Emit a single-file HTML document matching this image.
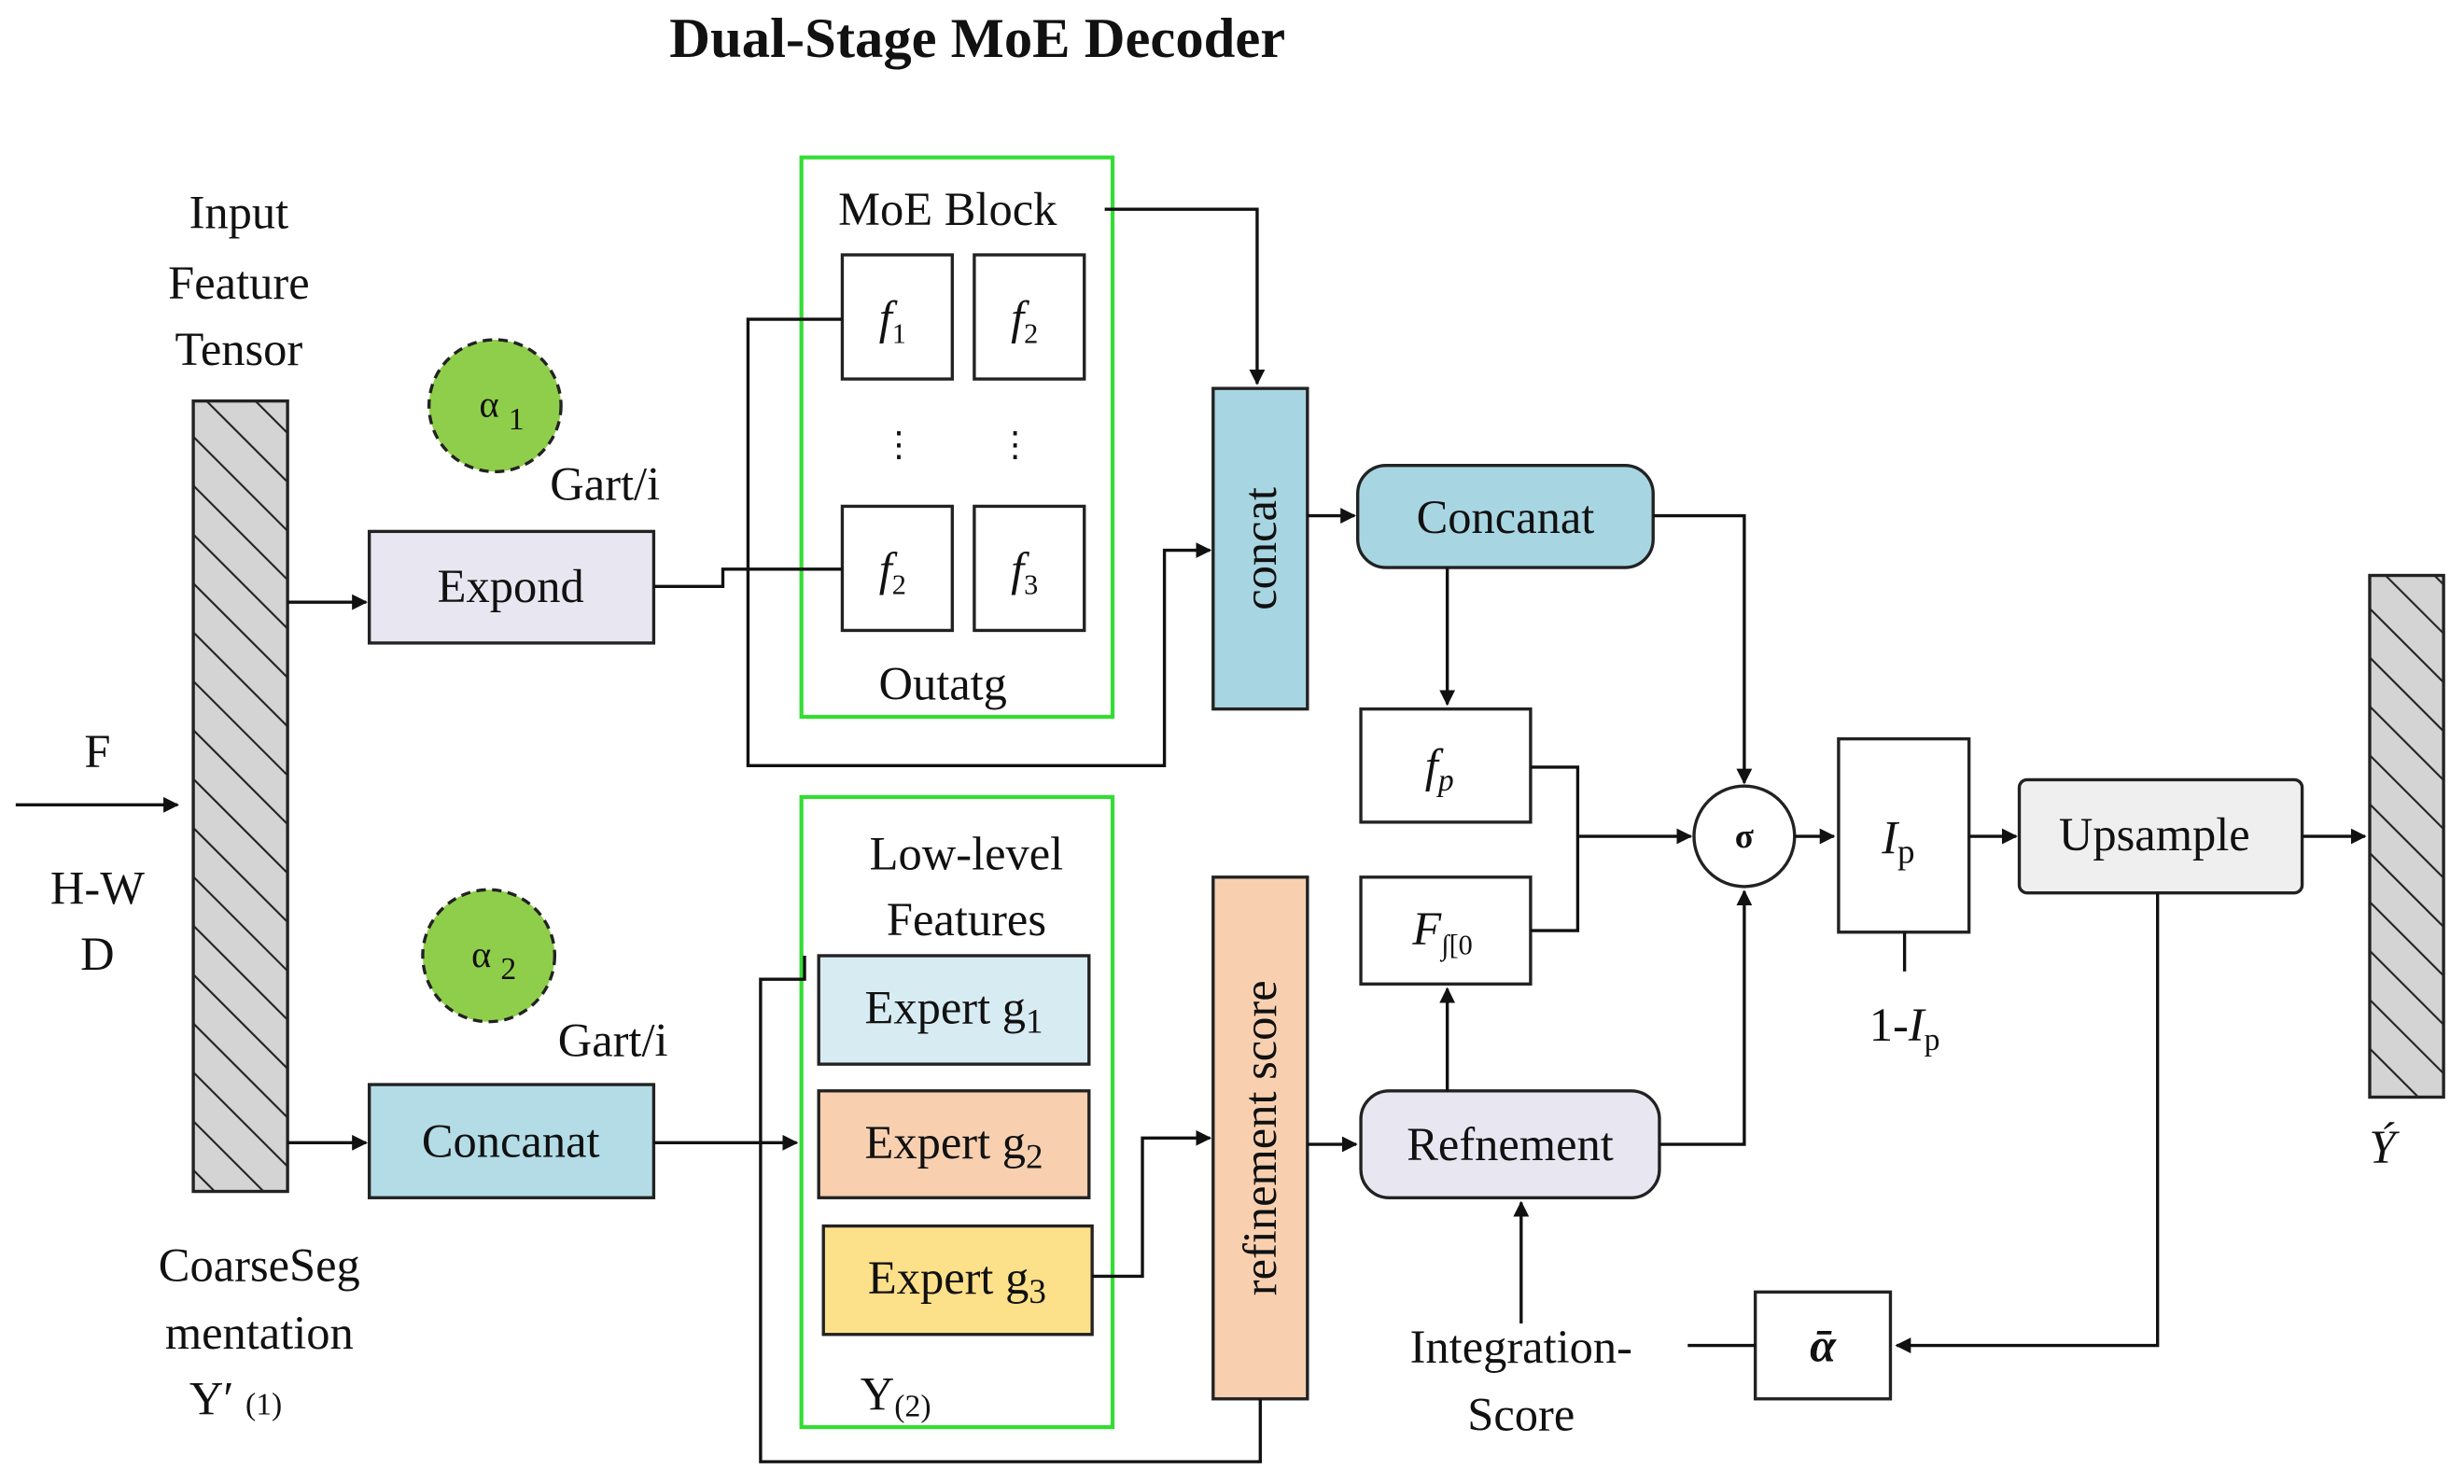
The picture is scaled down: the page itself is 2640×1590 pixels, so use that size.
<!DOCTYPE html>
<html><head><meta charset="utf-8"><style>html,body{margin:0;padding:0;background:#fff}svg{display:block}text{font-family:"Liberation Serif",serif;fill:#111}</style></head><body>
<svg width="2640" height="1590" viewBox="0 0 1568 944" xmlns="http://www.w3.org/2000/svg">
<defs>
<pattern id="h" patternUnits="userSpaceOnUse" width="22" height="22" patternTransform="rotate(-45)"><rect width="22" height="22" fill="#d4d4d4"/><line x1="0" y1="0" x2="0" y2="22" stroke="#222" stroke-width="2.5"/></pattern>
<marker id="a" markerWidth="10" markerHeight="10" refX="9" refY="5" orient="auto" markerUnits="userSpaceOnUse"><path d="M0,0 L10,5 L0,10 z" fill="#111"/></marker>
</defs>
<text x="622" y="36" font-size="36" font-weight="bold" text-anchor="middle">Dual-Stage MoE Decoder</text>
<g font-size="30" text-anchor="middle">
<text x="152" y="145">Input</text><text x="152" y="190">Feature</text><text x="152" y="232">Tensor</text>
<text x="62" y="488">F</text><text x="62" y="575">H-W</text><text x="62" y="617">D</text>
<text x="165" y="815">CoarseSeg</text><text x="165" y="858">mentation</text><text x="150" y="900">Y′ <tspan font-size="20">(1)</tspan></text>
<text x="385" y="318">Gart/i</text><text x="390" y="672">Gart/i</text>
</g>
<rect x="123" y="255" width="60" height="503" fill="url(#h)" stroke="#222" stroke-width="2"/>
<rect x="1508" y="366" width="47" height="332" fill="url(#h)" stroke="#222" stroke-width="2"/>
<circle cx="315" cy="258" r="42" fill="#8fce4a" stroke="#222" stroke-width="2" stroke-dasharray="6,4"/>
<circle cx="311" cy="608" r="42" fill="#8fce4a" stroke="#222" stroke-width="2" stroke-dasharray="6,4"/>
<text x="305" y="265" font-size="24">α <tspan font-size="20" dy="8">1</tspan></text>
<text x="300" y="615" font-size="24">α <tspan font-size="20" dy="8">2</tspan></text>
<g stroke="#222" stroke-width="2">
<rect x="235" y="338" width="181" height="71" fill="#e8e6f0"/>
<rect x="235" y="690" width="181" height="72" fill="#b3dce6"/>
<rect x="510" y="100" width="198" height="356" fill="none" stroke="#3d3" stroke-width="2.5"/>
<rect x="510" y="507" width="198" height="401" fill="none" stroke="#3d3" stroke-width="2.5"/>
<rect x="536" y="162" width="70" height="79" fill="#fff"/><rect x="620" y="162" width="70" height="79" fill="#fff"/>
<rect x="536" y="322" width="70" height="79" fill="#fff"/><rect x="620" y="322" width="70" height="79" fill="#fff"/>
<rect x="772" y="247" width="60" height="204" fill="#a8d5e2"/>
<rect x="772" y="558" width="60" height="332" fill="#f8d0b0"/>
<rect x="864" y="296" width="188" height="65" rx="18" fill="#a8d5e2"/>
<rect x="866" y="694" width="190" height="68" rx="18" fill="#e8e6f0"/>
<rect x="866" y="451" width="108" height="72" fill="#fff"/>
<rect x="866" y="558" width="108" height="68" fill="#fff"/>
<circle cx="1110" cy="532" r="32" fill="#fff"/>
<rect x="1170" y="470" width="83" height="123" fill="#fff"/>
<rect x="1285" y="496" width="180" height="72" rx="5" fill="#efefef"/>
<rect x="1117" y="822" width="86" height="68" fill="#fff"/>
<rect x="521" y="608" width="172" height="69" fill="#d7ecf2"/>
<rect x="521" y="694" width="172" height="68" fill="#f8d0b0"/>
<rect x="524" y="780" width="171" height="69" fill="#fde08a"/>
</g>
<g stroke="#111" stroke-width="2" fill="none">
<path d="M10 512 H113" marker-end="url(#a)"/>
<path d="M183 383 H233" marker-end="url(#a)"/>
<path d="M183 727 H233" marker-end="url(#a)"/>
<path d="M703 133 H800 V244" marker-end="url(#a)"/>
<path d="M416 373 H460 V362 H536"/>
<path d="M536 203 H476 V487 H741 V350 H770" marker-end="url(#a)"/>
<path d="M832 328 H862" marker-end="url(#a)"/>
<path d="M1052 328 H1110 V498" marker-end="url(#a)"/>
<path d="M921 361 V448" marker-end="url(#a)"/>
<path d="M974 488 H1004 V592 H974"/><path d="M1004 532 H1076" marker-end="url(#a)"/>
<path d="M1142 532 H1167" marker-end="url(#a)"/>
<path d="M1212 593 V618"/>
<path d="M1253 532 H1283" marker-end="url(#a)"/>
<path d="M1465 532 H1505" marker-end="url(#a)"/>
<path d="M1373 568 V856 H1207" marker-end="url(#a)"/>
<path d="M1074 856 H1117"/>
<path d="M968 842 V765" marker-end="url(#a)"/>
<path d="M1056 728 H1110 V567" marker-end="url(#a)"/>
<path d="M921 694 V629" marker-end="url(#a)"/>
<path d="M832 728 H863" marker-end="url(#a)"/>
<path d="M416 727 H507" marker-end="url(#a)"/>
<path d="M695 812 H727 V724 H770" marker-end="url(#a)"/>
<path d="M802 890 V930 H484 V623 H512 V608"/>
</g>
<g font-size="30" text-anchor="middle">
<text x="325" y="383">Expond</text>
<text x="325" y="736">Concanat</text>
<text x="603" y="143">MoE Block</text>
<text x="600" y="445">Outatg</text>
<text x="615" y="553">Low-level</text><text x="615" y="595">Features</text>
<text x="570" y="897">Y<tspan font-size="20" dy="4">(2)</tspan></text>
<text x="958" y="339">Concanat</text>
<text x="961" y="738">Refnement</text>
<text x="1371" y="541">Upsample</text>
<text x="968" y="867">Integration-</text><text x="968" y="910">Score</text>
<text x="1212" y="662">1-<tspan font-style="italic">I</tspan><tspan font-size="20" dy="6">p</tspan></text>
<text x="1516" y="740" font-style="italic">Ý</text>
<text x="1160" y="866" font-style="italic" font-weight="bold">ᾱ</text>
<text x="1110" y="539" font-size="22" font-weight="bold">σ</text>
<text x="1208" y="543" font-style="italic">I<tspan font-style="normal" font-size="22" dy="6">p</tspan></text>
<text x="916" y="497" font-style="italic">f<tspan font-size="20" dy="6">p</tspan></text>
<text x="918" y="601" font-style="italic">F<tspan font-size="18" dy="6" font-style="normal">∫[0</tspan></text>
<text x="568" y="212" font-style="italic">f<tspan font-size="18" dy="6" font-style="normal">1</tspan></text>
<text x="652" y="212" font-style="italic">f<tspan font-size="18" dy="6" font-style="normal">2</tspan></text>
<text x="568" y="372" font-style="italic">f<tspan font-size="18" dy="6" font-style="normal">2</tspan></text>
<text x="652" y="372" font-style="italic">f<tspan font-size="18" dy="6" font-style="normal">3</tspan></text>
<text x="572" y="290" font-size="22">⋮</text><text x="646" y="290" font-size="22">⋮</text>
<text x="607" y="651">Expert g<tspan font-size="22" dy="6">1</tspan></text>
<text x="607" y="737">Expert g<tspan font-size="22" dy="6">2</tspan></text>
<text x="609" y="823">Expert g<tspan font-size="22" dy="6">3</tspan></text>
<text transform="translate(812,349) rotate(-90)">concat</text>
<text transform="translate(812,724) rotate(-90)">refinement score</text>
</g>
</svg>
</body></html>
